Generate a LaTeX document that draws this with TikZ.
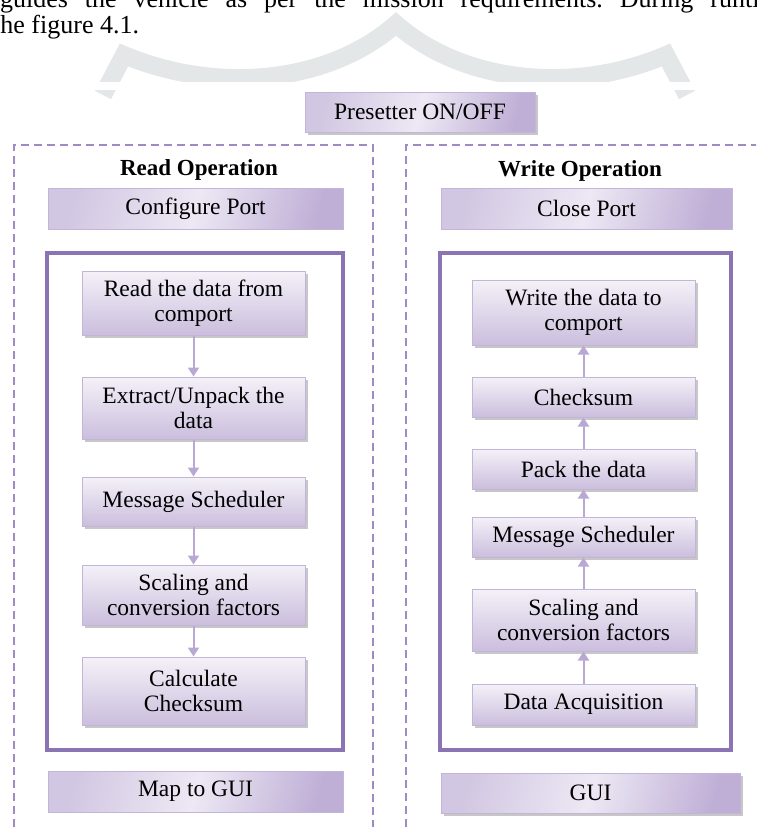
\documentclass[tikz,border=0pt]{standalone}
\usepackage{fontspec}
\setmainfont{Liberation Serif}
\usetikzlibrary{arrows.meta,shadows}
\definecolor{frameC}{HTML}{8B74B4}
\definecolor{dashC}{HTML}{A08AC6}
\definecolor{arrowC}{HTML}{B8A8D3}
\definecolor{boxTop}{HTML}{F4F1F8}
\definecolor{boxBot}{HTML}{CBBEDD}
\definecolor{boxDraw}{HTML}{C3B5DA}
\definecolor{wideL}{HTML}{D2C7E2}
\definecolor{wideM}{HTML}{EDE8F4}
\definecolor{wideR}{HTML}{BFAFD6}
\definecolor{wmC}{HTML}{E3E7E7}
\frenchspacing
\tikzset{
  boxfont/.style={font=\fontsize{23.5}{24.5}\selectfont},
  flow/.style={boxfont, draw=boxDraw, line width=1pt, top color=boxTop, bottom color=boxBot,
    minimum width=223pt, inner sep=0pt, align=center,
    drop shadow={shadow xshift=2.5pt, shadow yshift=-2.5pt, fill=black!40, opacity=0.55}},
  wide/.style={boxfont, draw=boxDraw, line width=1pt, left color=wideL, right color=wideR,
    middle color=wideM, shading angle=75, inner sep=0pt, minimum height=41pt, align=center},
  wideshadow/.style={drop shadow={shadow xshift=2.5pt, shadow yshift=-2.5pt, fill=black!40, opacity=0.55}},
  frame/.style={draw=frameC, line width=4pt, inner sep=0pt},
  container/.style={draw=dashC, line width=2pt, dash pattern=on 8pt off 5pt},
  arr/.style={draw=arrowC, line width=2pt, -{Triangle[width=11pt,length=9pt]}},
  heading/.style={font=\bfseries\fontsize{23}{24}\selectfont},
  para/.style={font=\fontsize{26}{28}\selectfont, inner sep=0pt, anchor=base west}
}
\begin{document}
\begin{tikzpicture}[x=1pt,y=-1pt]
\useasboundingbox (0,0) rectangle (756,827);
\begin{scope}
\clip (0,0) rectangle (756,827);
% watermark
\draw[wmC, line width=18pt, line join=miter, miter limit=4]
  (103,95) -- (124,55) .. controls (220,95) and (330,82) .. (396,24)
  .. controls (462,82) and (572,95) .. (666,55) -- (687,95);
\fill[white] (0,82) rectangle (756,90);
% paragraph text
\node[para] (p1) at (0,8) {\makebox[791pt][s]{guides the vehicle as per the mission requirements. During runtime}};
\node[para] (p2) at (-7,33) {the figure 4.1.};
% containers
\draw[container] (14,840) -- (14,145) -- (373,145) -- (373,840);
\draw[container] (406,840) -- (406,145) -- (780,145);
% top box
\node[wide, wideshadow, minimum width=230pt, minimum height=40pt] (pre) at (420,112) {Presetter ON/OFF};
% headings
\node[heading] (rh) at (199,170) {Read Operation};
\node[heading] (wh) at (580,171) {Write Operation};
% wide boxes
\node[wide, minimum width=295pt] (cfg) at (195.5,208.5) {Configure Port};
\node[wide, minimum width=291pt] (cls) at (586.5,208.5) {Close Port};
\node[wide, minimum width=295pt] (map) at (195.5,791.5) {Map to GUI};
\node[wide, wideshadow, minimum width=299pt, minimum height=40pt] (gui) at (590.5,793) {GUI};
% frames
\node[frame, minimum width=296pt, minimum height=497pt] (lf) at (195,501.5) {};
\node[frame, minimum width=291pt, minimum height=497pt] (rf) at (585.5,501.5) {};
% read column
\node[flow, minimum height=64pt] (r1) at (193.5,303) {Read the data from\\comport};
\node[flow, minimum height=62pt] (r2) at (193.5,408) {Extract/Unpack the\\data};
\node[flow, minimum height=49pt] (r3) at (193.5,501.5) {Message Scheduler};
\node[flow, minimum height=60pt] (r4) at (193.5,595) {Scaling and\\conversion factors};
\node[flow, minimum height=68pt] (r5) at (193.5,691) {Calculate\\Checksum};
% write column
\node[flow, minimum height=65pt] (w1) at (583.5,312.5) {Write the data to\\comport};
\node[flow, minimum height=40pt] (w2) at (583.5,397) {Checksum};
\node[flow, minimum height=40pt] (w3) at (583.5,469) {Pack the data};
\node[flow, minimum height=40pt] (w4) at (583.5,537) {Message Scheduler};
\node[flow, minimum height=62pt] (w5) at (583.5,620) {Scaling and\\conversion factors};
\node[flow, minimum height=41pt] (w6) at (583.5,704.5) {Data Acquisition};
% arrows
\draw[arr] (r1) -- (r2);
\draw[arr] (r2) -- (r3);
\draw[arr] (r3) -- (r4);
\draw[arr] (r4) -- (r5);
\draw[arr] (w6) -- (w5);
\draw[arr] (w5) -- (w4);
\draw[arr] (w4) -- (w3);
\draw[arr] (w3) -- (w2);
\draw[arr] (w2) -- (w1);
\end{scope}
\end{tikzpicture}
\end{document}
